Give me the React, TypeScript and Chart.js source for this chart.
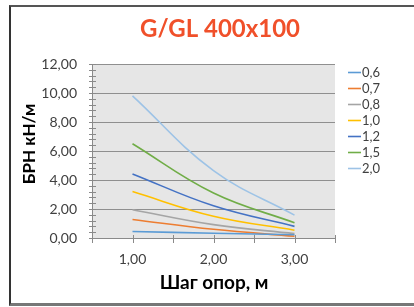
import React, { useEffect, useRef } from "react";
import { Chart, registerables } from "chart.js";

Chart.register(...registerables);

const title = "G/GL 400x100";
const yTitle = "БРН кН/м";
const xTitle = "Шаг опор, м";
const spans = [1, 2, 3];
const seriesNames = ["0,6", "0,7", "0,8", "1,0", "1,2", "1,5", "2,0"];
const s06 = [0.45, 0.33, 0.22];
const s07 = [1.28, 0.6, 0.12];
const s08 = [1.95, 0.92, 0.3];
const s10 = [3.2, 1.5, 0.54];
const s12 = [4.42, 2.22, 0.8];
const s15 = [6.5, 3.1, 1.05];
const s20 = [9.8, 4.65, 1.58];
const seriesValues = [s06, s07, s08, s10, s12, s15, s20];
const seriesColors = ["#5B9BD5", "#ED7D31", "#A5A5A5", "#FFC000", "#4472C4", "#70AD47", "#9DC3E6"];
const yTickLabels = ["0,00", "2,00", "4,00", "6,00", "8,00", "10,00", "12,00"];
const xTickLabels = ["1,00", "2,00", "3,00"];

const FONT = "Lato, 'Open Sans', sans-serif";

const decor = {
  id: "decor",
  beforeDraw(chart: any) {
    const { ctx, chartArea } = chart;
    ctx.save();
    ctx.fillStyle = "#e6e6e6";
    ctx.fillRect(chartArea.left, chartArea.top, chartArea.right - chartArea.left, chartArea.bottom - chartArea.top);
    ctx.restore();
  },
  afterDraw(chart: any) {
    const { ctx, chartArea, scales } = chart;
    const ys = scales.y;
    const xs = scales.x;
    ctx.save();
    // minor ticks on y axis
    ctx.strokeStyle = "#8a8a8a";
    ctx.lineWidth = 1;
    for (let k = 0; k <= 30; k++) {
      const py = Math.round(ys.getPixelForValue(k * 0.4)) + 0.5;
      ctx.beginPath();
      ctx.moveTo(chartArea.left - 3, py);
      ctx.lineTo(chartArea.left + 4, py);
      ctx.stroke();
    }
    // x ticks
    for (let k = 0; k <= 6; k++) {
      const px = Math.round(xs.getPixelForValue(0.5 + k * 0.5)) + 0.5;
      ctx.beginPath();
      ctx.moveTo(px, chartArea.bottom - 3);
      ctx.lineTo(px, chartArea.bottom + 5);
      ctx.stroke();
    }
    // title
    ctx.fillStyle = "#F0502A";
    ctx.font = `bold 24px ${FONT}`;
    ctx.textAlign = "center";
    ctx.textBaseline = "alphabetic";
    ctx.fillText(title, 220, 37);
    // x title
    ctx.fillStyle = "#000";
    ctx.font = `bold 19px ${FONT}`;
    ctx.textBaseline = "middle";
    ctx.fillText(xTitle, 214, 283);
    // y title
    ctx.save();
    ctx.translate(29.5, 144);
    ctx.rotate(-Math.PI / 2);
    ctx.font = `bold 17px ${FONT}`;
    ctx.fillText(yTitle, 0, 0);
    ctx.restore();
    // legend
    ctx.font = `13px ${FONT}`;
    ctx.textAlign = "left";
    ctx.textBaseline = "middle";
    seriesNames.forEach((name, i) => {
      const y = 72.5 + i * 16;
      ctx.strokeStyle = seriesColors[i];
      ctx.lineWidth = 1.6;
      ctx.beginPath();
      ctx.moveTo(348, y);
      ctx.lineTo(361, y);
      ctx.stroke();
      ctx.fillStyle = "#404040";
      ctx.fillText(name, 362, y + 0.5);
    });
    ctx.restore();
  },
};

export default function App() {
  const ref = useRef<HTMLCanvasElement>(null);
  useEffect(() => {
    document.body.style.margin = "0";
    const canvas = ref.current!;
    const chart = new Chart(canvas, {
      type: "line",
      data: {
        datasets: seriesNames.map((name, i) => ({
          label: name,
          data: spans.map((x, j) => ({ x, y: seriesValues[i][j] })),
          borderColor: seriesColors[i],
          backgroundColor: seriesColors[i],
          borderWidth: 1.6,
          pointRadius: 0,
          tension: 0.4,
          fill: false,
        })),
      },
      options: {
        animation: false,
        responsive: false,
        maintainAspectRatio: false,
        layout: { padding: { left: 20, right: 79, top: 64, bottom: 19 } },
        plugins: {
          legend: { display: false },
          title: { display: false },
          tooltip: { enabled: false },
        },
        scales: {
          x: {
            type: "linear",
            min: 0.5,
            max: 3.5,
            afterFit: (s: any) => { s.height = 50; },
            afterBuildTicks: (s: any) => {
              s.ticks = [0.5, 1, 1.5, 2, 2.5, 3, 3.5].map((v) => ({ value: v }));
            },
            ticks: {
              autoSkip: false,
              maxRotation: 0,
              padding: 13,
              color: "#404040",
              font: { family: FONT, size: 14 },
              callback: (v: any) => {
                const idx = spans.indexOf(Number(v));
                return idx >= 0 ? xTickLabels[idx] : "";
              },
            },
            grid: { display: false, drawTicks: false },
            border: { display: true, color: "#8a8a8a", width: 1 },
          },
          y: {
            type: "linear",
            min: 0,
            max: 12,
            afterFit: (s: any) => { s.width = 72; },
            ticks: {
              stepSize: 2,
              autoSkip: false,
              padding: 15,
              color: "#404040",
              font: { family: FONT, size: 14 },
              callback: (v: any) => yTickLabels[Math.round(Number(v) / 2)] ?? "",
            },
            grid: { color: "#8f8f8f", lineWidth: 1, drawTicks: false },
            border: { display: true, color: "#8a8a8a", width: 1 },
          },
        },
      },
      plugins: [decor],
    });
    return () => chart.destroy();
  }, []);
  return (
    <div style={{ position: "relative", width: 414, height: 307, overflow: "hidden", background: "#fff" }}>
      <div
        style={{
          position: "absolute",
          left: 9,
          top: 5,
          width: 420,
          height: 296,
          borderTop: "2px solid #555",
          borderLeft: "2px solid #333",
          borderBottom: "3px solid #777",
        }}
      />
      <canvas ref={ref} width={414} height={307} style={{ position: "absolute", left: 0, top: 0, width: 414, height: 307 }} />
    </div>
  );
}
